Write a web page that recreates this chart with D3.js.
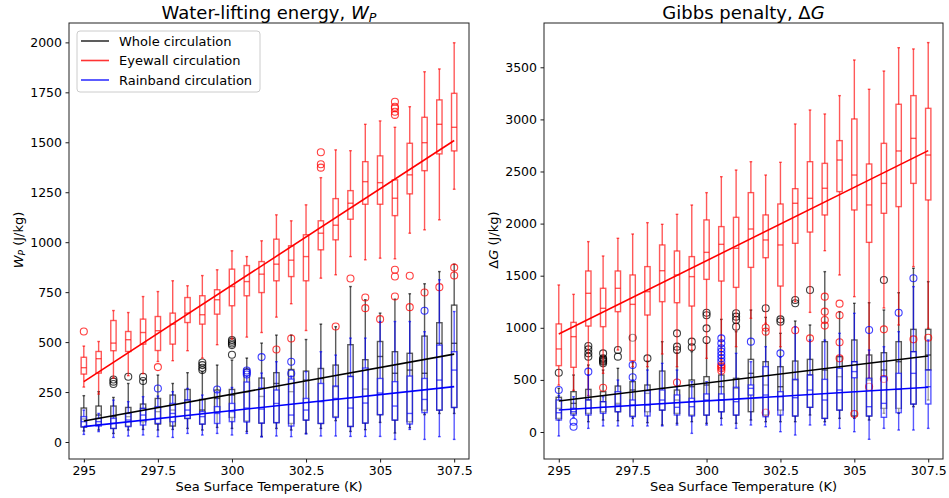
<!DOCTYPE html>
<html><head><meta charset="utf-8">
<script src="https://cdn.jsdelivr.net/npm/d3@7"></script>
<style>
body{margin:0;background:#fff;}
svg{display:block;font-family:"DejaVu Sans",sans-serif;}
</style></head>
<body><svg id="chart" width="949" height="498"></svg>
<script>
// ---------- DATA ----------
const sst = [295,295.5,296,296.5,297,297.5,298,298.5,299,299.5,300,300.5,301,301.5,302,302.5,303,303.5,304,304.5,305,305.5,306,306.5,307,307.5];
const xTickVals = [295,297.5,300,302.5,305,307.5];
const xTickLabels = ["295","297.5","300","302.5","305","307.5"];
const wpTicks = [0,250,500,750,1000,1250,1500,1750,2000];
const dgTicks = [0,500,1000,1500,2000,2500,3000,3500];
const seriesNames = ["Whole circulation","Eyewall circulation","Rainband circulation"];

// Box stats per SST: [lower whisker, Q1, median, Q3, upper whisker]
// Water-lifting energy W_P (J/kg)
const wpWhole = [[55,75,115,170,232],[60,88,135,180,252],[43,68,127,180,223],[60,80,127,173,293],[63,102,168,190,310],[60,90,152,218,335],[63,80,160,235,293],[68,118,210,263,347],[60,90,160,213,352],[73,152,218,260,385],[68,123,235,263,410],[53,105,250,365,420],[28,95,228,320,495],[68,97,293,347,535],[60,93,252,363,535],[43,110,310,355,513],[68,93,318,368,590],[107,127,277,385,577],[53,78,328,487,778],[62,95,265,412,712],[98,137,428,503,645],[45,110,344,452,715],[72,102,360,444,742],[137,160,344,530,792],[143,160,494,597,853],[143,173,494,685,890]];
const wpEye = [[275,340,372,424,480],[240,345,417,453,503],[320,457,495,608,658],[332,453,512,553,648],[342,490,548,615,728],[403,458,557,628,753],[407,490,590,645,807],[457,598,645,723,782],[420,590,637,732,833],[487,640,712,762,862],[515,682,778,865,957],[525,732,803,883,928],[548,748,840,903,1007],[625,807,890,1015,1137],[692,828,910,982,1107],[558,807,928,1037,1187],[820,962,1045,1107,1323],[837,1012,1085,1218,1462],[928,1115,1195,1258,1458],[912,1190,1303,1403,1590],[920,1190,1298,1432,1607],[917,1133,1220,1312,1575],[1045,1242,1337,1495,1678],[1062,1358,1498,1625,1853],[1112,1442,1590,1712,1867],[1265,1457,1575,1745,1998]];
const wpRain = [[38,77,102,127,160],[52,80,102,118,143],[23,68,93,118,210],[30,77,110,143,202],[35,85,135,168,227],[27,93,118,177,230],[23,102,143,193,252],[43,118,160,210,268],[35,90,127,152,235],[43,93,143,177,252],[35,102,152,193,273],[43,100,170,300,330],[25,95,165,270,345],[30,97,193,260,402],[27,80,135,315,330],[40,110,160,218,352],[30,93,202,293,452],[30,123,218,280,435],[28,78,170,328,520],[28,95,195,370,520],[28,137,245,318,603],[13,110,180,302,603],[63,90,143,330,603],[13,147,213,318,552],[27,160,310,485,812],[13,173,360,452,653]];
// outliers: [sst, value]
const wpWholeOut = [[296,313],[296,302],[296,290],[296.5,327],[297,327],[297,305],[299,398],[299,385],[299,372],[299,360],[300,510],[300,502],[300,493],[300,485],[300,437]];
const wpEyeOut = [[295,553],[297.5,375],[301.5,463],[302,518],[303,1450],[303,1390],[303,1373],[303.5,578],[304,818],[304.5,723],[304.5,670],[305,615],[305.5,1703],[305.5,1678],[305.5,1670],[305.5,1653],[305.5,1637],[305.5,862],[305.5,828],[305.5,728],[306,832],[306,675],[306.5,748],[307,775],[307.5,873],[307.5,833]];
const wpRainOut = [[297.5,268],[299.5,263],[300.5,358],[300.5,348],[300.5,338],[301,425],[302,402],[302,343],[306.5,657]];
// regression line values at 295 K and 307.5 K
const wpWholeFit = [105,440];
const wpEyeFit = [302,1509];
const wpRainFit = [77,277];

// Gibbs penalty ΔG (J/kg)
const dgWhole = [[115,131,227,333,419],[163,179,275,387,547],[99,179,307,409,643],[115,195,291,387,595],[109,195,275,441,611],[131,154,403,483,665],[90,195,371,451,680],[67,211,419,585,867],[83,179,307,403,760],[99,163,435,499,771],[83,163,451,531,851],[131,195,435,547,1081],[83,163,419,515,963],[115,195,563,697,1171],[99,163,451,675,1100],[99,211,435,627,947],[99,154,499,681,1065],[163,237,547,697,1027],[99,131,595,867,1539],[131,211,531,723,1155],[131,154,675,883,1235],[115,154,499,739,1241],[179,227,595,761,1171],[179,227,675,867,1337],[243,269,771,985,1571],[307,595,739,985,1443]];
const dgEye = [[450,637,797,1037,1411],[400,621,915,1052,1321],[350,1017,1331,1545,1827],[563,1011,1187,1379,1689],[787,1155,1379,1545,1859],[627,685,1225,1507,1900],[627,1123,1347,1587,2009],[749,1251,1548,1795,1993],[627,1241,1507,1737,2089],[787,1209,1491,1683,2178],[707,1465,1724,2035,2297],[691,1449,1801,1971,2450],[819,1388,1763,2060,2514],[1091,1580,1948,2297,2594],[1043,1673,1843,2083,2466],[819,1401,1795,2188,2588],[1251,1811,2195,2335,2956],[1148,1919,2243,2594,3090],[1740,2083,2339,2578,3052],[1507,2307,2610,2796,3228],[1299,2131,2466,3004,3570],[520,1820,2179,2572,3289],[1190,2099,2386,2770,3464],[1027,2163,2697,3145,3688],[1587,2386,2818,3228,3676],[995,2227,2658,3106,3737]];
const dgRain = [[-38,115,185,307,350],[140,163,195,227,339],[35,163,227,307,547],[58,179,237,291,339],[58,195,259,387,499],[58,147,259,307,500],[58,154,259,397,595],[58,211,307,403,659],[67,163,237,355,595],[-13,154,243,323,483],[67,163,307,365,483],[67,195,307,365,640],[35,163,291,429,755],[67,355,419,451,675],[51,147,355,627,819],[3,163,339,387,720],[-29,154,329,505,1011],[67,237,403,547,883],[67,131,307,505,883],[35,211,403,611,947],[3,521,580,675,1139],[-70,154,243,515,787],[35,141,275,531,819],[19,186,409,563,963],[19,269,563,771,1395],[35,269,435,595,883]];
const dgWholeOut = [[295,569],[296,825],[296,793],[296,755],[296,723],[296.5,755],[296.5,707],[296.5,697],[296.5,685],[296.5,675],[296.5,659],[297,787],[297,723],[297.5,905],[298,707],[299,947],[299,819],[299,787],[299.5,867],[299.5,813],[300,1145],[300,1120],[300,995],[300,883],[301,1139],[301,1107],[301,1075],[301,1011],[302,1187],[302.5,1081],[302.5,1059],[303,1267],[303,1235],[303.5,1363],[306,1459]];
const dgEyeOut = [[296.5,425],[299,475],[300.5,643],[300.5,627],[300.5,611],[300.5,589],[302,1001],[302,963],[302,186],[303,976],[303.5,899],[304,1299],[304,1155],[304,1075],[304,1021],[304.5,1232],[304.5,1120],[304.5,861],[304.5,707],[305,173],[305.5,435],[306,985],[306,509],[307,889],[307.5,905]];
const dgRainOut = [[295,403],[295.5,99],[295.5,51],[296,579],[297.5,643],[297.5,525],[300.5,899],[300.5,851],[300.5,803],[300.5,771],[300.5,739],[300.5,707],[300.5,675],[301.5,867],[302.5,755],[305.5,979],[306.5,1145],[307,1475]];
const dgWholeFit = [297,729];
const dgEyeFit = [940,2700];
const dgRainFit = [211,429];

const colors = ["#000000","#ff0000","#0000ff"];

// ---------- DRAW ----------
const svg = d3.select("#chart");
const plotTop = 23, plotBottom = 459;

function drawPanel(o){
  const x = d3.scaleLinear().domain([294.5,308]).range([o.x0,o.x1]);
  const y = d3.scaleLinear().domain(o.yDom).range([plotBottom,plotTop]);
  const g = svg.append("g");
  const bw = 0.18, cw = 0.09;

  o.series.forEach((s,si)=>{
    const col = colors[si];
    const sg = g.append("g").attr("stroke",col).attr("stroke-opacity",0.65).attr("stroke-width",1.4).attr("fill","none");
    s.stats.forEach((d,i)=>{
      const xc = x(sst[i]);
      const hb = (x(sst[i]+bw/2)-x(sst[i]-bw/2))/2;
      const hc = (x(sst[i]+cw/2)-x(sst[i]-cw/2))/2;
      sg.append("line").attr("x1",xc).attr("x2",xc).attr("y1",y(d[0])).attr("y2",y(d[1]));
      sg.append("line").attr("x1",xc).attr("x2",xc).attr("y1",y(d[3])).attr("y2",y(d[4]));
      sg.append("line").attr("x1",xc-hc).attr("x2",xc+hc).attr("y1",y(d[0])).attr("y2",y(d[0]));
      sg.append("line").attr("x1",xc-hc).attr("x2",xc+hc).attr("y1",y(d[4])).attr("y2",y(d[4]));
      sg.append("rect").attr("x",xc-hb).attr("width",2*hb).attr("y",y(d[3])).attr("height",y(d[1])-y(d[3]))
        .attr("fill","#fff").attr("fill-opacity",0.45);
      sg.append("line").attr("x1",xc-hb).attr("x2",xc+hb).attr("y1",y(d[2])).attr("y2",y(d[2]));
    });
    s.out.forEach(p=>{
      sg.append("circle").attr("cx",x(p[0])).attr("cy",y(p[1])).attr("r",3.5).attr("stroke-width",1.1).attr("stroke-opacity",0.75);
    });
  });
  o.series.forEach((s,si)=>{
    g.append("line").attr("x1",x(295)).attr("x2",x(307.5)).attr("y1",y(s.fit[0])).attr("y2",y(s.fit[1]))
      .attr("stroke",colors[si]).attr("stroke-width",1.6);
  });

  const xa = g.append("g").attr("transform",`translate(0,${plotBottom})`)
    .call(d3.axisBottom(x).tickValues(xTickVals).tickFormat((d,i)=>xTickLabels[i]).tickSize(3.5).tickPadding(3.5).tickSizeOuter(0));
  const ya = g.append("g").attr("transform",`translate(${o.x0},0)`)
    .call(d3.axisLeft(y).tickValues(o.yTicks).tickFormat(d=>String(d)).tickSize(3.5).tickPadding(3.5).tickSizeOuter(0));
  [xa,ya].forEach(a=>{
    a.select(".domain").remove();
    a.selectAll("text").attr("font-family","DejaVu Sans").attr("font-size",12.5).attr("fill","#000");
    a.selectAll("line").attr("stroke","#000").attr("stroke-width",0.9);
  });
  g.append("rect").attr("x",o.x0).attr("y",plotTop).attr("width",o.x1-o.x0).attr("height",plotBottom-plotTop)
    .attr("fill","none").attr("stroke","#222").attr("stroke-width",1);

  const cx = (o.x0+o.x1)/2;
  const t = g.append("text").attr("x",cx).attr("y",18.5).attr("text-anchor","middle").attr("font-size",18).attr("fill","#000");
  o.title(t);
  g.append("text").attr("x",cx).attr("y",491).attr("text-anchor","middle").attr("font-size",13).text("Sea Surface Temperature (K)");
  const yl = g.append("text").attr("transform",`translate(${o.x0-46},240) rotate(-90)`).attr("text-anchor","middle").attr("font-size",13);
  o.ylabel(yl);
}

drawPanel({
  x0:69, x1:469, yDom:[-85,2097], yTicks:wpTicks,
  series:[{stats:wpWhole,out:wpWholeOut,fit:wpWholeFit},{stats:wpEye,out:wpEyeOut,fit:wpEyeFit},{stats:wpRain,out:wpRainOut,fit:wpRainFit}],
  title:t=>{t.append("tspan").text("Water-lifting energy, ");t.append("tspan").attr("font-style","italic").text("W");t.append("tspan").attr("font-style","italic").attr("font-size",12.6).attr("dy",3).text("P");},
  ylabel:t=>{t.append("tspan").attr("font-style","italic").text("W");t.append("tspan").attr("font-style","italic").attr("font-size",9.1).attr("dy",2.2).text("P");t.append("tspan").attr("dy",-2.2).text(" (J/kg)");}
});
drawPanel({
  x0:544, x1:943, yDom:[-259,3925], yTicks:dgTicks,
  series:[{stats:dgWhole,out:dgWholeOut,fit:dgWholeFit},{stats:dgEye,out:dgEyeOut,fit:dgEyeFit},{stats:dgRain,out:dgRainOut,fit:dgRainFit}],
  title:t=>{t.append("tspan").text("Gibbs penalty, Δ");t.append("tspan").attr("font-style","italic").text("G");},
  ylabel:t=>{t.append("tspan").text("Δ");t.append("tspan").attr("font-style","italic").text("G");t.append("tspan").text(" (J/kg)");}
});

const lg = svg.append("g");
lg.append("rect").attr("x",77).attr("y",31).attr("width",183).attr("height",61).attr("rx",3)
  .attr("fill","#fff").attr("fill-opacity",0.8).attr("stroke","#ccc").attr("stroke-width",1);
seriesNames.forEach((n,i)=>{
  const yy = 41 + i*19.5;
  lg.append("line").attr("x1",81).attr("x2",109).attr("y1",yy).attr("y2",yy).attr("stroke",colors[i]).attr("stroke-width",1.6).attr("stroke-opacity",0.8);
  lg.append("text").attr("x",119).attr("y",yy).attr("dy","0.35em").attr("font-size",13).attr("fill","#000").text(n);
});
</script></body></html>
